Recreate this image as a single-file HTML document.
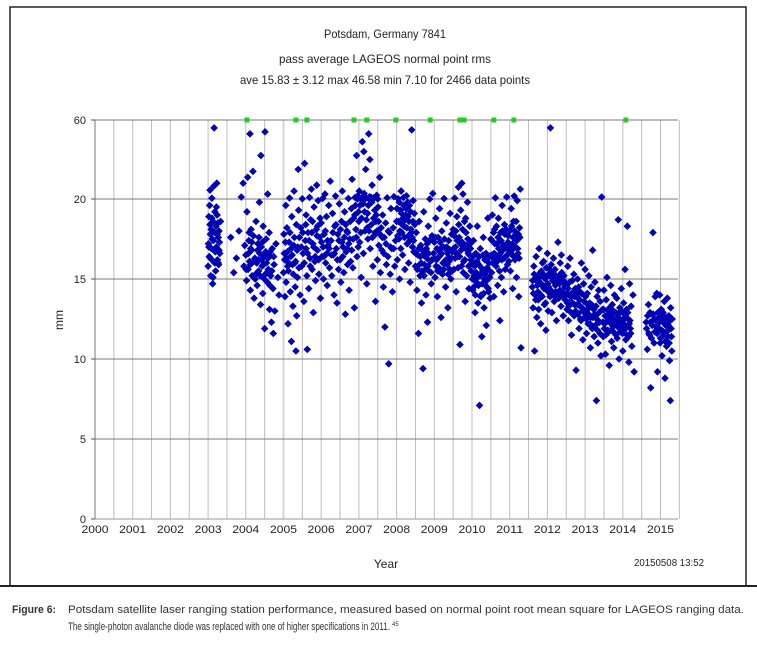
<!DOCTYPE html>
<html><head><meta charset="utf-8"><style>
html,body{margin:0;padding:0;background:#fff;}
svg{display:block;font-family:"Liberation Sans",Arial,sans-serif;}
</style></head><body>
<svg id="chart" width="757" height="646" viewBox="0 0 757 646">
<rect x="10" y="7" width="736" height="579" fill="none" stroke="#222" stroke-width="1.5"/>
<line x1="0" y1="586" x2="757" y2="586" stroke="#222" stroke-width="2"/>
<g font-size="12" fill="#222" text-anchor="middle">
<text x="385" y="38" textLength="122" lengthAdjust="spacingAndGlyphs">Potsdam, Germany 7841</text>
<text x="385" y="63" textLength="212" lengthAdjust="spacingAndGlyphs">pass average LAGEOS normal point rms</text>
<text x="385" y="84" textLength="290" lengthAdjust="spacingAndGlyphs">ave 15.83 ± 3.12 max 46.58 min 7.10 for 2466 data points</text>
</g>
<g id="grid"></g>
<g id="axes"></g>
<g id="marks"></g>
<text x="63" y="320" font-size="12" fill="#222" text-anchor="middle" transform="rotate(-90 63 320)">mm</text>
<text x="386" y="568" font-size="12" fill="#222" text-anchor="middle">Year</text>
<text x="704" y="566" font-size="10" fill="#222" text-anchor="end" textLength="70" lengthAdjust="spacingAndGlyphs">20150508 13:52</text>
<g font-size="11" fill="#333">
<text x="12" y="613" font-weight="bold" textLength="44" lengthAdjust="spacingAndGlyphs">Figure 6:</text>
<text x="68" y="613" textLength="676" lengthAdjust="spacingAndGlyphs">Potsdam satellite laser ranging station performance, measured based on normal point root mean square for LAGEOS ranging data.</text>
<text x="68" y="630" textLength="322" lengthAdjust="spacingAndGlyphs">The single-photon avalanche diode was replaced with one of higher specifications in 2011.</text>
<text x="392" y="626" font-size="6">45</text>
</g>
</svg>
<script>
const yearTicks=[2000,2001,2002,2003,2004,2005,2006,2007,2008,2009,2010,2011,2012,2013,2014,2015];
const rmsTicks=[0,5,10,15,20,60];
const offScaleYears=[2004.03,2005.33,2005.62,2006.87,2007.21,2007.98,2008.89,2009.68,2009.79,2010.58,2011.11,2014.08];
const pass2003=[[2003.00,15.8],[2003.01,17.2],[2003.02,18.9],[2003.03,16.4],[2003.04,19.6],[2003.05,24.5],[2003.06,17.8],[2003.07,15.2],[2003.08,18.1],[2003.09,16.9],[2003.10,20.4],[2003.11,17.5],[2003.12,14.7],[2003.13,18.6],[2003.14,16.1],[2003.15,26.5],[2003.16,56],[2003.17,17.9],[2003.18,19.2],[2003.19,16.7],[2003.20,15.5],[2003.21,18.3],[2003.22,17.0],[2003.23,28],[2003.24,19.0],[2003.25,16.2],[2003.26,18.5],[2003.27,17.6],[2003.28,15.9],[2003.29,18.0],[2003.30,17.3],[2003.31,16.6],[2003.05,18.4],[2003.13,15.1],[2003.22,19.5],[2003.27,16.0]];
const pass2004=[[2003.60,17.6],[2003.68,15.4],[2003.75,16.3],[2003.82,18.0],[2003.88,21],[2003.93,28],[2003.95,15.8],[2003.97,17.1],[2004.00,16.5],[2004.02,14.9],[2004.03,19.2],[2004.05,31],[2004.06,15.6],[2004.08,17.4],[2004.10,16.1],[2004.11,53],[2004.12,14.3],[2004.14,18.1],[2004.15,16.8],[2004.17,15.2],[2004.19,34],[2004.20,17.7],[2004.22,13.8],[2004.24,16.3],[2004.25,15.0],[2004.27,18.6],[2004.29,16.0],[2004.30,14.6],[2004.32,17.2],[2004.34,15.5],[2004.36,19.8],[2004.37,16.6],[2004.39,13.4],[2004.40,42],[2004.41,17.0],[2004.43,15.8],[2004.45,14.1],[2004.46,18.3],[2004.48,16.4],[2004.50,11.9],[2004.51,54],[2004.52,15.3],[2004.54,17.5],[2004.55,16.0],[2004.57,14.8],[2004.58,22.5],[2004.60,15.6],[2004.62,17.9],[2004.63,13.1],[2004.65,16.7],[2004.66,15.2],[2004.68,12.3],[2004.70,16.9],[2004.72,14.4],[2004.73,11.6],[2004.75,15.9],[2004.77,13.0],[2004.80,17.2],[2004.85,15.1],[2004.88,14.0],[2004.13,16.9],[2004.33,16.2],[2004.47,15.9],[2004.59,16.3],[2004.09,17.9]];
const pass2005=[[2005.00,15.4],[2005.01,17.8],[2005.03,16.2],[2005.04,13.9],[2005.06,19.6],[2005.07,14.8],[2005.09,18.2],[2005.10,16.7],[2005.12,12.2],[2005.13,15.5],[2005.15,17.3],[2005.16,20.5],[2005.18,14.2],[2005.19,16.4],[2005.21,11.1],[2005.22,18.9],[2005.24,15.9],[2005.25,13.3],[2005.27,17.1],[2005.28,24],[2005.30,16.0],[2005.31,14.5],[2005.33,10.5],[2005.34,18.4],[2005.36,16.8],[2005.37,15.1],[2005.39,35],[2005.40,19.3],[2005.42,17.6],[2005.44,14.0],[2005.08,16.3],[2005.20,16.9],[2005.35,12.7],
[2005.46,18.2],[2005.48,15.8],[2005.50,20.1],[2005.52,16.6],[2005.54,13.6],[2005.56,38],[2005.58,17.4],[2005.60,19.0],[2005.62,15.2],[2005.63,10.6],[2005.65,17.9],[2005.67,14.4],[2005.69,20.8],[2005.70,16.3],[2005.72,18.7],[2005.74,25],[2005.76,15.6],[2005.78,17.2],[2005.79,12.9],[2005.81,19.5],[2005.83,16.1],[2005.85,14.9],[2005.87,18.1],[2005.88,27],[2005.90,16.8],[2005.92,19.9],[2005.94,15.3],[2005.96,17.6],[2005.98,13.8],[2005.60,16.9],[2005.75,17.9],[2005.90,18.3]];
const pass2006=[[2006.00,18.5],[2006.02,16.4],[2006.04,20.3],[2006.06,15.0],[2006.08,17.8],[2006.10,22.5],[2006.12,16.0],[2006.14,18.9],[2006.16,14.6],[2006.18,17.1],[2006.20,19.6],[2006.22,15.7],[2006.24,29],[2006.05,17.0],[2006.15,16.6],
[2006.26,17.4],[2006.28,15.2],[2006.30,19.1],[2006.32,16.5],[2006.34,14.0],[2006.36,18.3],[2006.38,21.5],[2006.40,16.9],[2006.42,13.5],[2006.44,17.8],[2006.46,15.6],[2006.48,19.7],[2006.50,16.2],[2006.52,14.8],[2006.54,18.6],[2006.56,24],[2006.58,17.0],[2006.60,15.4],[2006.62,19.2],[2006.64,12.8],[2006.66,16.7],[2006.68,18.0],[2006.70,15.9],[2006.72,20.3],[2006.74,14.3],[2006.76,17.5],[2006.78,16.1],[2006.80,19.4],[2006.82,30],[2006.84,15.7],[2006.86,18.8],[2006.88,13.2],[2006.55,17.3],[2006.70,17.9],
[2006.90,20.8],[2006.92,18.1],[2006.94,42],[2006.95,16.4],[2006.97,21.6],[2006.99,19.2],[2006.98,17.0]];
const pass2007=[[2007.01,24],[2007.02,17.3],[2007.04,20.2],[2007.06,15.1],[2007.07,18.8],[2007.09,49],[2007.11,19.7],[2007.12,16.6],[2007.14,22.8],[2007.16,18.0],[2007.18,35],[2007.19,20.6],[2007.21,14.7],[2007.23,19.1],[2007.24,17.5],[2007.26,53],[2007.28,21.1],[2007.30,16.9],[2007.31,19.9],[2007.33,18.4],[2007.35,27],[2007.37,15.8],[2007.38,20.4],[2007.40,17.7],[2007.42,19.3],[2007.44,13.6],[2007.45,18.6],[2007.47,21.9],[2007.49,16.2],[2007.51,19.5],[2007.53,17.1],[2007.55,31],[2007.57,15.4],[2007.59,18.2],[2007.10,21.0],[2007.20,18.7],[2007.32,20.9],[2007.46,19.0],[2007.13,44],[2007.29,40],
[2007.61,16.8],[2007.63,19.0],[2007.65,14.5],[2007.67,17.6],[2007.69,12.0],[2007.71,18.5],[2007.73,15.9],[2007.75,20.6],[2007.77,16.4],[2007.79,9.7],[2007.81,17.9],[2007.83,15.3],[2007.85,19.4],[2007.87,16.9],[2007.89,14.2],[2007.91,18.2],[2007.93,21.2],[2007.95,15.8],[2007.97,17.4]];
const pass2008=[[2008.00,18.6],[2008.02,16.2],[2008.04,20.1],[2008.06,17.5],[2008.08,15.0],[2008.10,19.3],[2008.12,24],[2008.14,17.9],[2008.16,16.5],[2008.18,20.7],[2008.20,18.3],[2008.22,15.6],[2008.24,19.0],[2008.26,21.6],[2008.28,17.2],[2008.30,18.9],[2008.32,16.0],[2008.34,19.6],[2008.36,14.8],[2008.38,18.1],[2008.40,55],[2008.42,17.0],[2008.44,19.9],[2008.46,16.7],[2008.48,18.4],[2008.03,17.7],[2008.17,18.8],[2008.29,19.8],[2008.41,17.6],[2008.11,16.9],
[2008.50,15.8],[2008.52,17.9],[2008.54,14.3],[2008.56,16.5],[2008.58,11.6],[2008.60,18.6],[2008.62,15.2],[2008.64,17.1],[2008.66,13.5],[2008.68,16.8],[2008.70,9.4],[2008.72,19.2],[2008.74,15.9],[2008.76,17.5],[2008.78,14.0],[2008.80,16.3],[2008.82,12.3],[2008.84,18.3],[2008.86,15.5],[2008.88,20.0],[2008.90,16.1],[2008.92,14.7],[2008.94,17.7],[2008.96,22.8],[2008.98,16.6],[2008.65,16.0],[2008.79,16.9]];
const pass2009=[[2009.00,17.3],[2009.02,15.1],[2009.04,18.8],[2009.06,16.2],[2009.08,13.9],[2009.10,17.6],[2009.12,15.7],[2009.14,19.4],[2009.16,16.5],[2009.18,12.6],[2009.20,18.0],[2009.22,15.3],[2009.24,17.0],[2009.26,20.2],[2009.28,16.0],[2009.30,14.5],[2009.32,18.5],[2009.34,15.9],[2009.36,13.2],[2009.38,17.4],[2009.40,16.3],[2009.42,19.1],[2009.44,15.0],[2009.46,17.8],[2009.48,16.7],[2009.13,16.4],[2009.29,16.9],[2009.41,15.6],
[2009.50,18.1],[2009.52,15.6],[2009.54,20.4],[2009.56,17.0],[2009.58,14.2],[2009.60,18.9],[2009.62,16.4],[2009.64,26],[2009.66,17.6],[2009.68,10.9],[2009.70,19.3],[2009.72,15.8],[2009.74,17.3],[2009.76,22.5],[2009.78,16.1],[2009.80,18.6],[2009.82,13.6],[2009.84,17.9],[2009.86,15.2],[2009.88,19.8],[2009.90,16.6],[2009.92,14.4],[2009.94,18.3],[2009.96,16.9],[2009.98,15.5],[2009.73,28],[2009.85,17.1]];
const pass2010=[[2010.00,16.0],[2010.02,14.3],[2010.04,17.4],[2010.06,15.2],[2010.08,12.9],[2010.10,16.6],[2010.12,14.8],[2010.14,18.3],[2010.16,13.5],[2010.18,15.9],[2010.20,7.1],[2010.22,16.9],[2010.24,14.0],[2010.26,11.4],[2010.28,15.5],[2010.30,17.6],[2010.32,13.2],[2010.34,16.2],[2010.36,14.6],[2010.38,12.1],[2010.40,15.7],[2010.42,18.8],[2010.44,14.2],[2010.46,16.4],[2010.48,13.8],[2010.15,15.1],[2010.33,15.0],
[2010.50,17.5],[2010.52,15.4],[2010.54,19.0],[2010.56,16.3],[2010.58,13.9],[2010.60,18.1],[2010.62,20.6],[2010.64,15.8],[2010.66,17.2],[2010.68,14.6],[2010.70,18.8],[2010.72,16.5],[2010.74,12.4],[2010.76,17.9],[2010.78,15.1],[2010.80,19.6],[2010.82,16.8],[2010.84,14.2],[2010.86,18.4],[2010.88,15.6],[2010.90,17.0],[2010.92,21.0],[2010.94,15.9],[2010.96,17.7],[2010.98,16.1]];
const pass2011=[[2011.00,18.0],[2011.02,15.5],[2011.04,19.4],[2011.06,16.8],[2011.08,14.4],[2011.10,18.6],[2011.12,21.5],[2011.14,16.2],[2011.16,17.8],[2011.18,15.1],[2011.20,19.9],[2011.22,16.6],[2011.24,13.9],[2011.26,18.2],[2011.28,25],[2011.30,10.7],[2011.07,17.2],[2011.19,17.4],
[2011.60,14.5],[2011.62,13.2],[2011.64,15.8],[2011.66,10.5],[2011.68,14.0],[2011.70,16.4],[2011.72,12.6],[2011.74,15.1],[2011.76,13.7],[2011.78,16.9],[2011.80,14.8],[2011.82,12.2],[2011.84,15.5],[2011.86,13.9],[2011.88,14.6],[2011.90,16.1],[2011.92,13.4],[2011.94,15.0],[2011.96,11.8],[2011.98,14.3],[2011.71,14.9],[2011.81,15.4],[2011.91,14.4],[2011.77,13.1],[2011.87,16.0],[2011.97,15.7],[2011.65,15.3],[2011.75,14.2],[2011.95,13.5]];
const pass2012=[[2012.00,16.6],[2012.02,13.0],[2012.04,15.3],[2012.06,14.1],[2012.08,56],[2012.10,15.9],[2012.12,12.9],[2012.14,14.9],[2012.16,16.3],[2012.18,13.6],[2012.20,15.6],[2012.22,14.2],[2012.24,12.4],[2012.26,15.0],[2012.28,17.3],[2012.30,13.8],[2012.32,14.7],[2012.34,16.0],[2012.36,13.3],[2012.38,15.4],[2012.40,14.0],[2012.42,12.7],[2012.44,15.2],[2012.46,14.5],[2012.01,14.7],[2012.11,15.1],[2012.21,14.6],[2012.31,15.2],[2012.41,14.8],[2012.07,13.9],[2012.17,15.0],[2012.27,14.1],[2012.37,16.5],[2012.47,13.7],
[2012.50,14.6],[2012.52,13.1],[2012.54,15.8],[2012.56,12.4],[2012.58,14.0],[2012.60,16.3],[2012.62,13.6],[2012.64,11.5],[2012.66,14.9],[2012.68,12.8],[2012.70,15.3],[2012.72,13.4],[2012.74,14.4],[2012.76,9.3],[2012.78,12.9],[2012.80,15.0],[2012.82,13.8],[2012.84,11.9],[2012.86,14.2],[2012.88,12.5],[2012.90,16.0],[2012.92,13.2],[2012.94,11.2],[2012.96,14.7],[2012.98,12.6],[2012.65,13.9],[2012.75,13.0],[2012.85,13.7],[2012.95,13.1]];
const pass2013=[[2013.00,15.6],[2013.02,13.0],[2013.04,11.6],[2013.06,14.1],[2013.08,12.2],[2013.10,15.2],[2013.12,13.5],[2013.14,10.7],[2013.16,14.5],[2013.18,12.0],[2013.20,16.8],[2013.22,13.3],[2013.24,11.4],[2013.26,14.8],[2013.28,12.7],[2013.30,7.4],[2013.32,13.9],[2013.34,11.0],[2013.36,14.3],[2013.38,12.3],[2013.40,13.6],[2013.42,10.2],[2013.44,21.0],[2013.05,12.9],[2013.15,12.6],[2013.25,12.8],[2013.35,12.4],
[2013.46,13.1],[2013.48,11.4],[2013.50,14.3],[2013.52,12.2],[2013.54,10.3],[2013.56,13.7],[2013.58,15.1],[2013.60,11.8],[2013.62,13.0],[2013.64,9.6],[2013.66,12.6],[2013.68,14.6],[2013.70,11.1],[2013.72,13.4],[2013.74,12.0],[2013.76,10.7],[2013.78,14.0],[2013.80,12.4],[2013.82,11.5],[2013.84,13.8],[2013.86,12.1],[2013.88,18.7],[2013.90,10.0],[2013.92,13.2],[2013.94,11.7],[2013.96,14.4],[2013.98,12.3],[2013.57,12.7],[2013.67,12.9],[2013.77,12.5],[2013.87,12.8],[2013.97,12.0]];
const pass2014=[[2014.00,10.5],[2014.02,13.5],[2014.04,12.8],[2014.06,15.6],[2014.08,11.2],[2014.10,13.1],[2014.12,18.3],[2014.14,12.5],[2014.16,9.8],[2014.18,14.7],[2014.20,11.9],[2014.22,13.3],[2014.07,12.6],[2014.17,12.2],[2014.24,10.8],[2014.27,14.0],[2014.30,9.2],
[2014.62,12.3],[2014.65,10.6],[2014.68,13.4],[2014.71,11.5],[2014.74,8.2],[2014.77,12.8],[2014.80,17.9],[2014.83,11.0],[2014.86,13.9],[2014.89,12.0],[2014.92,9.2],[2014.95,12.6],[2014.98,14.0],[2014.72,12.9],[2014.84,12.5],[2014.96,11.9],[2014.90,14.1]];
const pass2015=[[2015.00,11.3],[2015.02,13.1],[2015.04,10.2],[2015.06,12.4],[2015.08,11.7],[2015.10,13.6],[2015.12,8.8],[2015.14,12.1],[2015.16,10.8],[2015.18,13.8],[2015.20,11.4],[2015.22,12.7],[2015.24,9.9],[2015.26,7.4],[2015.28,11.9],[2015.30,10.5],[2015.07,12.9],[2015.19,12.2],[2015.27,13.2]];
const extraEarly=[[2003.02,17.0],[2003.06,16.3],[2003.10,18.8],[2003.14,17.4],[2003.18,16.0],[2003.24,17.8],[2003.29,16.8],[2003.33,18.6],
[2004.01,15.6],[2004.07,16.6],[2004.12,15.9],[2004.16,17.3],[2004.21,16.1],[2004.26,15.3],[2004.31,16.8],[2004.35,17.6],[2004.38,15.2],[2004.42,16.2],[2004.44,17.3],[2004.49,15.0],[2004.53,16.7],[2004.56,15.4],[2004.61,16.5],[2004.64,14.6],[2004.69,15.5],[2004.74,16.4],
[2005.02,16.6],[2005.05,17.3],[2005.11,15.8],[2005.14,16.0],[2005.17,17.9],[2005.23,16.5],[2005.26,15.3],[2005.29,17.6],[2005.32,16.1],[2005.38,17.0],[2005.41,15.7],
[2005.47,17.0],[2005.51,17.9],[2005.55,16.0],[2005.59,18.4],[2005.64,16.6],[2005.68,17.4],[2005.71,15.8],[2005.77,18.6],[2005.80,17.0],[2005.84,16.4],[2005.89,17.7],[2005.93,16.2],[2005.97,18.8],[2006.01,17.3],[2006.07,16.4],[2006.11,18.0],[2006.17,17.4],[2006.21,16.9],
[2006.27,16.5],[2006.31,17.9],[2006.35,16.6],[2006.39,18.4],[2006.43,16.2],[2006.47,17.4],[2006.51,18.1],[2006.57,16.4],[2006.61,17.6],[2006.65,18.4],[2006.69,16.9],[2006.73,17.2],[2006.77,18.6],[2006.81,16.8],[2006.85,17.5],[2006.89,19.0]];
const extraMid=[[2006.91,19.6],[2006.93,17.6],[2006.96,20.0],[2007.00,18.6],[2007.03,19.6],[2007.05,17.9],[2007.08,20.3],[2007.15,19.2],[2007.17,20.1],[2007.22,18.2],[2007.25,19.6],[2007.27,18.0],[2007.34,19.8],[2007.36,17.6],[2007.39,18.8],[2007.41,20.6],[2007.43,17.9],[2007.48,18.0],[2007.50,20.0],[2007.52,18.6],[2007.56,17.8],[2007.62,17.6],[2007.66,16.6],[2007.72,17.2],[2007.78,18.0],[2007.84,17.0],[2007.92,16.9],
[2008.01,19.4],[2008.05,18.6],[2008.07,19.8],[2008.09,18.0],[2008.13,19.1],[2008.15,18.4],[2008.19,19.6],[2008.21,17.6],[2008.23,18.7],[2008.25,19.4],[2008.27,18.2],[2008.31,17.7],[2008.33,18.6],[2008.35,17.4],[2008.37,19.2],[2008.39,17.9],[2008.43,18.6],[2008.45,17.4],[2008.47,19.1],
[2008.51,16.6],[2008.55,15.6],[2008.59,16.9],[2008.61,15.9],[2008.63,16.4],[2008.67,15.5],[2008.71,16.5],[2008.73,15.2],[2008.75,16.8],[2008.77,15.6],[2008.81,17.2],[2008.83,15.8],[2008.85,16.6],[2008.87,17.4],[2008.91,15.4],[2008.93,16.2],[2008.97,17.6],
[2009.01,16.3],[2009.03,17.6],[2009.05,15.8],[2009.07,16.9],[2009.09,15.5],[2009.11,16.8],[2009.15,17.3],[2009.17,15.4],[2009.19,16.6],[2009.21,17.0],[2009.23,16.0],[2009.25,15.6],[2009.27,17.5],[2009.31,16.2],[2009.33,17.0],[2009.35,16.6],[2009.37,15.3],[2009.39,16.1],[2009.43,16.8],[2009.45,16.3],[2009.47,15.5],
[2009.51,16.9],[2009.53,17.7],[2009.55,16.3],[2009.57,18.0],[2009.59,16.6],[2009.61,17.4],[2009.63,15.7],[2009.65,18.4],[2009.67,16.4],[2009.69,17.2],[2009.71,16.8],[2009.75,18.1],[2009.77,15.4],[2009.79,17.0],[2009.81,16.2],[2009.83,18.8],[2009.87,16.8],[2009.89,17.5],[2009.91,15.8],[2009.93,16.5],[2009.95,17.2],[2009.97,16.2]];
const extraLate=[[2010.01,15.0],[2010.03,16.4],[2010.05,14.5],[2010.07,15.8],[2010.09,14.0],[2010.11,15.4],[2010.13,16.1],[2010.17,14.6],[2010.19,16.4],[2010.21,15.2],[2010.23,13.9],[2010.25,15.7],[2010.27,14.7],[2010.29,16.5],[2010.31,14.1],[2010.35,15.3],[2010.37,16.6],[2010.39,14.9],[2010.41,15.6],[2010.43,14.4],[2010.45,16.0],[2010.47,15.1],
[2010.51,16.5],[2010.53,17.4],[2010.55,16.0],[2010.57,17.9],[2010.59,16.6],[2010.61,17.2],[2010.63,16.3],[2010.65,18.3],[2010.67,16.1],[2010.69,17.6],[2010.71,16.9],[2010.73,15.5],[2010.75,16.6],[2010.77,17.4],[2010.79,16.2],[2010.81,18.0],[2010.83,17.1],[2010.85,16.3],[2010.87,17.8],[2010.89,16.4],[2010.91,18.1],[2010.93,16.9],[2010.95,17.3],[2010.97,16.6],
[2011.01,17.1],[2011.03,16.6],[2011.05,18.3],[2011.09,17.6],[2011.11,16.4],[2011.13,18.0],[2011.15,17.0],[2011.17,18.6],[2011.21,16.9],[2011.23,17.8],[2011.25,16.3],[2011.27,17.6],
[2011.61,14.9],[2011.63,14.1],[2011.67,15.0],[2011.69,13.7],[2011.73,14.6],[2011.79,15.1],[2011.83,14.0],[2011.85,14.6],[2011.89,15.3],[2011.93,14.5],[2011.99,15.2],[2012.03,14.5],[2012.05,15.6],[2012.09,14.3],[2012.13,15.4],[2012.15,14.0],[2012.19,14.8],[2012.23,15.2],[2012.25,13.8],[2012.29,15.0],[2012.33,14.3],[2012.35,15.1],[2012.39,14.2],[2012.43,14.9],[2012.45,13.9],
[2012.51,14.1],[2012.53,13.5],[2012.55,14.4],[2012.57,13.3],[2012.59,14.8],[2012.61,13.9],[2012.63,12.9],[2012.67,13.5],[2012.69,14.2],[2012.71,12.7],[2012.73,13.9],[2012.77,14.0],[2012.79,13.4],[2012.81,12.8],[2012.83,14.5],[2012.87,13.3],[2012.89,12.4],[2012.91,14.1],[2012.93,13.0],[2012.97,13.6],[2012.99,12.9],[2013.01,13.9],[2013.03,12.5],[2013.07,13.4],[2013.09,12.8],[2013.11,13.2],[2013.13,12.2],[2013.17,13.4],[2013.19,11.9],[2013.21,12.6],[2013.23,13.1],[2013.27,12.1],[2013.29,13.3],[2013.31,12.5],[2013.33,11.8],[2013.37,12.9],[2013.39,11.6],
[2013.47,12.3],[2013.49,13.1],[2013.51,11.9],[2013.53,12.7],[2013.55,11.5],[2013.59,12.4],[2013.61,12.8],[2013.63,11.7],[2013.65,13.2],[2013.69,12.2],[2013.71,11.8],[2013.73,12.6],[2013.75,13.0],[2013.79,11.6],[2013.81,12.9],[2013.83,12.2],[2013.85,11.3],[2013.89,12.6],[2013.91,11.9],[2013.93,12.4],[2013.95,13.0],[2013.99,11.6],[2014.01,12.2],[2014.03,11.8],[2014.05,12.5],[2014.09,12.0],[2014.11,11.5],[2014.13,12.9],[2014.15,11.4],[2014.19,12.4],[2014.21,11.6],
[2014.63,11.9],[2014.66,12.7],[2014.69,11.6],[2014.73,12.3],[2014.76,11.3],[2014.78,12.1],[2014.81,12.8],[2014.85,11.7],[2014.87,12.4],[2014.91,11.6],[2014.93,12.9],[2014.97,12.3],[2014.99,11.0],[2015.01,12.4],[2015.03,11.8],[2015.05,12.7],[2015.09,11.5],[2015.11,12.2],[2015.13,11.1],[2015.15,12.6],[2015.17,11.7],[2015.21,12.1],[2015.23,11.0],[2015.25,12.4],[2015.29,11.4],[2015.31,12.5]];

const NS='http://www.w3.org/2000/svg';
const X0=95,PXY=37.7,PLOT_R=678,Y0=519,PXMM=16,Y20=199,YTOP=120;
function xs(yr){return X0+(yr-2000)*PXY;}
function ys(v){return v<=20?Y0-v*PXMM:Y20-(v-20)/40*(Y20-YTOP);}
function mk(tag,attrs,parent){const e=document.createElementNS(NS,tag);for(const k in attrs)e.setAttribute(k,attrs[k]);parent.appendChild(e);return e;}
const grid=document.getElementById('grid'),axes=document.getElementById('axes'),marks=document.getElementById('marks');
for(let h=1;h<=31;h++){
  const yr=2000+h/2;
  const l=mk('line',{x1:xs(yr),x2:xs(yr),y1:YTOP,y2:Y0,stroke:yr===2005?'#d4d4d4':'#bdbdbd','stroke-width':yr===2005?2:1},grid);
  
  
}
rmsTicks.forEach(v=>{
  if(v===0)return;
  const l=mk('line',{x1:X0,x2:PLOT_R,y1:ys(v),y2:ys(v),stroke:'#7a7a7a','stroke-width':1},grid);
  
  
});
const ax=mk('line',{x1:X0,x2:PLOT_R,y1:Y0,y2:Y0,stroke:'#999','stroke-width':1},axes);


const ay=mk('line',{x1:X0,x2:X0,y1:YTOP,y2:Y0,stroke:'#777','stroke-width':1},axes);


rmsTicks.forEach(v=>{
  const t=mk('text',{x:X0-9,y:ys(v)+4,'font-size':11,fill:'#222','text-anchor':'end'},axes);
  t.textContent=v;
  
  
  const tk=mk('line',{x1:X0-4,x2:X0,y1:ys(v),y2:ys(v),stroke:'#555'},axes);
  
  
});
yearTicks.forEach(yr=>{
  const t=mk('text',{x:xs(yr),y:Y0+14,'font-size':11,fill:'#222','text-anchor':'middle',textLength:27,lengthAdjust:'spacingAndGlyphs'},axes);
  t.textContent=yr;
  
  
});
const allPasses=[].concat(pass2003,pass2004,pass2005,pass2006,pass2007,pass2008,pass2009,pass2010,pass2011,pass2012,pass2013,pass2014,pass2015,extraEarly,extraMid,extraLate);
allPasses.forEach(p=>{
  const cx=xs(p[0]),cy=ys(p[1]),r=3.8;
  const d=mk('path',{d:`M${cx} ${cy-r}L${cx+r} ${cy}L${cx} ${cy+r}L${cx-r} ${cy}Z`,fill:'#0000b4'},marks);
  
  
});
offScaleYears.forEach(yr=>{
  const s=mk('rect',{x:xs(yr)-2.5,y:YTOP-2.5,width:5,height:5,fill:'#22cc22'},marks);
  
  
});
</script>
</body></html>
